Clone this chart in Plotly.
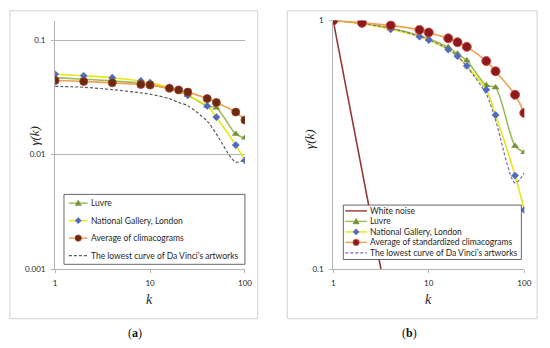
import plotly.graph_objects as go

W, H = 550, 348

# ---------------- data ----------------
k = [1, 2, 4, 8, 10, 16, 20, 25, 40, 50, 80, 100]

# panel (a)
luvre_a = [0.0470, 0.0455, 0.0440, 0.0420, 0.0410, 0.0375, 0.0358, 0.0330, 0.0266, 0.0257, 0.0151, 0.0140]
ng_a = [0.0503, 0.0487, 0.0469, 0.0439, 0.0425, 0.0386, 0.0369, 0.0329, 0.0266, 0.0212, 0.0121, 0.0089]
avg_a = [0.0443, 0.0435, 0.0423, 0.0409, 0.0404, 0.0379, 0.0367, 0.0351, 0.0308, 0.0285, 0.0235, 0.0200]
low_a = [0.0394, 0.0387, 0.0369, 0.0346, 0.0337, 0.0308, 0.0285, 0.0267, 0.0196, 0.0151, 0.0086, 0.0091]

# panel (b)
white_k = [1, 2, 4]
white_b = [1.0, 0.25, 0.0625]
luvre_b = [1.0, 0.975, 0.930, 0.870, 0.845, 0.780, 0.735, 0.690, 0.549, 0.538, 0.313, 0.295]
ng_b = [1.0, 0.970, 0.922, 0.861, 0.835, 0.764, 0.719, 0.657, 0.527, 0.417, 0.238, 0.173]
avg_b = [1.0, 0.979, 0.956, 0.917, 0.895, 0.848, 0.818, 0.784, 0.687, 0.625, 0.503, 0.425]
low_b = [1.0, 0.973, 0.931, 0.864, 0.838, 0.766, 0.719, 0.653, 0.506, 0.398, 0.222, 0.244]

names_a = ["Luvre", "National Gallery, London", "Average of climacograms",
           "The lowest curve of Da Vinci\u2019s artworks"]
names_b = ["White noise", "Luvre", "National Gallery, London",
           "Average of standardized climacograms",
           "The lowest curve of Da Vinci\u2019s artworks"]

xticks = [1, 10, 100]
xticktext = ["1", "10", "100"]
yticks_a = [0.001, 0.01, 0.1]
yticktext_a = ["0.001", "0.01", "0.1"]
yticks_b = [0.1, 1]
yticktext_b = ["0.1", "1"]

# ---------------- styles ----------------
C_LUV_LINE = "#9BBB59"
C_LUV_MK = "#77933C"
C_NG_LINE = "#E6E619"
C_NG_MK = "#4F6CC0"
C_AVG_LINE = "#F0A050"
C_AVG_MK_A = "#6B2A10"
C_AVG_MK_B = "#8B1A1A"
C_AVG_RIM_B = "#D04A4A"
C_LOW_A = "#595959"
C_LOW_B = "#6C6CB0"
C_WN = "#953735"
GRID = "#B4B4B4"
TXT = "#262626"
FONT = "Lato, Liberation Sans, sans-serif"


def px(x):
    return x / W


def py(y):
    return 1 - y / H


fig = go.Figure()

SM = 0.8
# ----- panel (a) traces -----
fig.add_trace(go.Scatter(x=k, y=luvre_a, mode="lines+markers", name=names_a[0],
                         line=dict(color=C_LUV_LINE, width=1.6, shape="spline", smoothing=SM),
                         marker=dict(symbol="triangle-up", size=7, color=C_LUV_MK),
                         xaxis="x", yaxis="y", showlegend=False))
fig.add_trace(go.Scatter(x=k, y=ng_a, mode="lines+markers", name=names_a[1],
                         line=dict(color=C_NG_LINE, width=1.6, shape="spline", smoothing=SM),
                         marker=dict(symbol="diamond", size=6, color=C_NG_MK),
                         xaxis="x", yaxis="y", showlegend=False))
fig.add_trace(go.Scatter(x=k, y=avg_a, mode="lines+markers", name=names_a[2],
                         line=dict(color=C_AVG_LINE, width=1.6, shape="spline", smoothing=SM),
                         marker=dict(symbol="circle", size=8, color=C_AVG_MK_A,
                                     line=dict(color="#A03A2A", width=0.8)),
                         xaxis="x", yaxis="y", showlegend=False))
fig.add_trace(go.Scatter(x=k, y=low_a, mode="lines", name=names_a[3],
                         line=dict(color=C_LOW_A, width=1.2, dash="3px,2px", shape="spline", smoothing=SM),
                         xaxis="x", yaxis="y", showlegend=False))

# ----- panel (b) traces -----
fig.add_trace(go.Scatter(x=white_k, y=white_b, mode="lines", name=names_b[0],
                         line=dict(color=C_WN, width=1.6),
                         xaxis="x2", yaxis="y2", showlegend=False))
fig.add_trace(go.Scatter(x=k, y=luvre_b, mode="lines+markers", name=names_b[1],
                         line=dict(color=C_LUV_LINE, width=1.6, shape="spline", smoothing=SM),
                         marker=dict(symbol="triangle-up", size=7, color=C_LUV_MK),
                         xaxis="x2", yaxis="y2", showlegend=False))
fig.add_trace(go.Scatter(x=k, y=ng_b, mode="lines+markers", name=names_b[2],
                         line=dict(color=C_NG_LINE, width=1.6, shape="spline", smoothing=SM),
                         marker=dict(symbol="diamond", size=6, color=C_NG_MK),
                         xaxis="x2", yaxis="y2", showlegend=False))
fig.add_trace(go.Scatter(x=k, y=low_b, mode="lines", name=names_b[4],
                         line=dict(color=C_LOW_B, width=1.2, dash="3px,2px", shape="spline", smoothing=SM),
                         xaxis="x2", yaxis="y2", showlegend=False))
fig.add_trace(go.Scatter(x=k, y=avg_b, mode="lines+markers", name=names_b[3],
                         line=dict(color=C_AVG_LINE, width=1.6, shape="spline", smoothing=SM),
                         marker=dict(symbol="circle", size=9, color=C_AVG_MK_B,
                                     line=dict(color=C_AVG_RIM_B, width=1)),
                         xaxis="x2", yaxis="y2", showlegend=False))

# ----- axes -----
axis_common = dict(type="log", showline=True, linecolor=GRID, linewidth=1,
                   ticks="outside", ticklen=3, tickcolor=GRID,
                   tickfont=dict(family=FONT, size=8, color=TXT), zeroline=False)

ytop_a = -0.83  # log10 of top of plot area (a)

shapes = []
annotations = []

# frames
shapes.append(dict(type="rect", xref="paper", yref="paper", x0=px(8), x1=px(260), y0=py(6), y1=py(323),
                   line=dict(color="#D0D0D0", width=1)))
shapes.append(dict(type="rect", xref="paper", yref="paper", x0=px(290), x1=px(544), y0=py(6), y1=py(323),
                   line=dict(color="#D0D0D0", width=1)))


def legend_box(x0, y0, x1, y1):
    shapes.append(dict(type="rect", xref="paper", yref="paper", x0=px(x0), x1=px(x1), y0=py(y0), y1=py(y1),
                       line=dict(color="#404040", width=0.8), fillcolor="white", layer="above"))


def legend_row(xs0, xs1, y, text, lcolor, dash=None, mk=None, mkcolor=None, mkrim=None, r=3.2):
    shapes.append(dict(type="line", xref="paper", yref="paper", x0=px(xs0), x1=px(xs1), y0=py(y), y1=py(y),
                       line=dict(color=lcolor, width=1.4 if dash is None else 1.1, dash=dash), layer="above"))
    cx = (xs0 + xs1) / 2
    if mk == "circle":
        shapes.append(dict(type="circle", xref="paper", yref="paper", x0=px(cx - r), x1=px(cx + r),
                           y0=py(y - r), y1=py(y + r), fillcolor=mkcolor,
                           line=dict(color=mkrim or mkcolor, width=0.8), layer="above"))
    elif mk == "triangle":
        path = "M %f %f L %f %f L %f %f Z" % (px(cx - r), py(y + r * 0.8), px(cx + r), py(y + r * 0.8),
                                              px(cx), py(y - r))
        shapes.append(dict(type="path", xref="paper", yref="paper", path=path, fillcolor=mkcolor,
                           line=dict(color=mkcolor, width=0.5), layer="above"))
    elif mk == "diamond":
        path = "M %f %f L %f %f L %f %f L %f %f Z" % (px(cx - r), py(y), px(cx), py(y - r),
                                                      px(cx + r), py(y), px(cx), py(y + r))
        shapes.append(dict(type="path", xref="paper", yref="paper", path=path, fillcolor=mkcolor,
                           line=dict(color=mkcolor, width=0.5), layer="above"))
    annotations.append(dict(xref="paper", yref="paper", x=px(xs1 + 1.5), y=py(y), text=text,
                            xanchor="left", yanchor="middle", showarrow=False,
                            font=dict(family=FONT, size=8.5, color=TXT)))


# legend (a)
legend_box(63, 195, 247, 267)
legend_row(68, 87, 204, names_a[0], C_LUV_LINE, mk="triangle", mkcolor=C_LUV_MK)
legend_row(68, 87, 222, names_a[1], C_NG_LINE, mk="diamond", mkcolor=C_NG_MK)
legend_row(68, 87, 240, names_a[2], C_AVG_LINE, mk="circle", mkcolor=C_AVG_MK_A, mkrim="#A03A2A")
legend_row(68, 87, 258, names_a[3], C_LOW_A, dash="3px,2px")

# legend (b)
legend_box(347, 206, 528, 262)
rows_b = [212, 222.8, 233.6, 244.4, 255.2]
legend_row(349, 371, rows_b[0], names_b[0], C_WN)
legend_row(349, 371, rows_b[1], names_b[1], C_LUV_LINE, mk="triangle", mkcolor=C_LUV_MK)
legend_row(349, 371, rows_b[2], names_b[2], C_NG_LINE, mk="diamond", mkcolor=C_NG_MK)
legend_row(349, 371, rows_b[3], names_b[3], C_AVG_LINE, mk="circle", mkcolor=C_AVG_MK_B, mkrim=C_AVG_RIM_B)
legend_row(349, 371, rows_b[4], names_b[4], C_LOW_B, dash="3px,2px")

# axis titles & captions
for (x, y) in [(33, 134), (312, 138)]:
    annotations.append(dict(xref="paper", yref="paper", x=px(x), y=py(y), text="<i>\u03b3(k)</i>",
                            textangle=-90, showarrow=False, xanchor="center", yanchor="middle",
                            font=dict(family="Liberation Serif, serif", size=13, color=TXT)))
for (x, y) in [(150, 303), (434, 303)]:
    annotations.append(dict(xref="paper", yref="paper", x=px(x), y=py(y), text="<i>k</i>",
                            showarrow=False, xanchor="center", yanchor="middle",
                            font=dict(family="Liberation Serif, serif", size=14, color=TXT)))
for (x, t) in [(135, "(<b>a</b>)"), (414, "(<b>b</b>)")]:
    annotations.append(dict(xref="paper", yref="paper", x=px(x), y=py(338), text=t,
                            showarrow=False, xanchor="center", yanchor="middle",
                            font=dict(family="Liberation Serif, serif", size=12, color="#111111")))

fig.update_layout(
    width=W, height=H, margin=dict(l=0, r=0, t=0, b=0),
    paper_bgcolor="white", plot_bgcolor="white",
    showlegend=False,
    xaxis=dict(axis_common, domain=[px(54), px(247)], range=[0, 2], anchor="y",
               tickvals=xticks, ticktext=xticktext, showgrid=False, ticklabelstandoff=3),
    yaxis=dict(axis_common, domain=[py(272), py(16)], range=[-3, ytop_a], anchor="x",
               tickvals=yticks_a, ticktext=yticktext_a, showgrid=True, gridcolor=GRID, gridwidth=1,
               ticklabelstandoff=4),
    xaxis2=dict(axis_common, domain=[px(336.7), px(531)], range=[0, 2], anchor="y2",
                tickvals=xticks, ticktext=xticktext, showgrid=False, ticklabelstandoff=3),
    yaxis2=dict(axis_common, domain=[py(272), py(16)], range=[-1, 0], anchor="x2",
                tickvals=yticks_b, ticktext=yticktext_b, showgrid=True, gridcolor=GRID, gridwidth=1,
                ticklabelstandoff=4),
    shapes=shapes, annotations=annotations,
)

fig.write_html("out.html", config={"displayModeBar": False},
               post_script="document.body.style.margin='0';document.body.style.overflow='hidden';")
